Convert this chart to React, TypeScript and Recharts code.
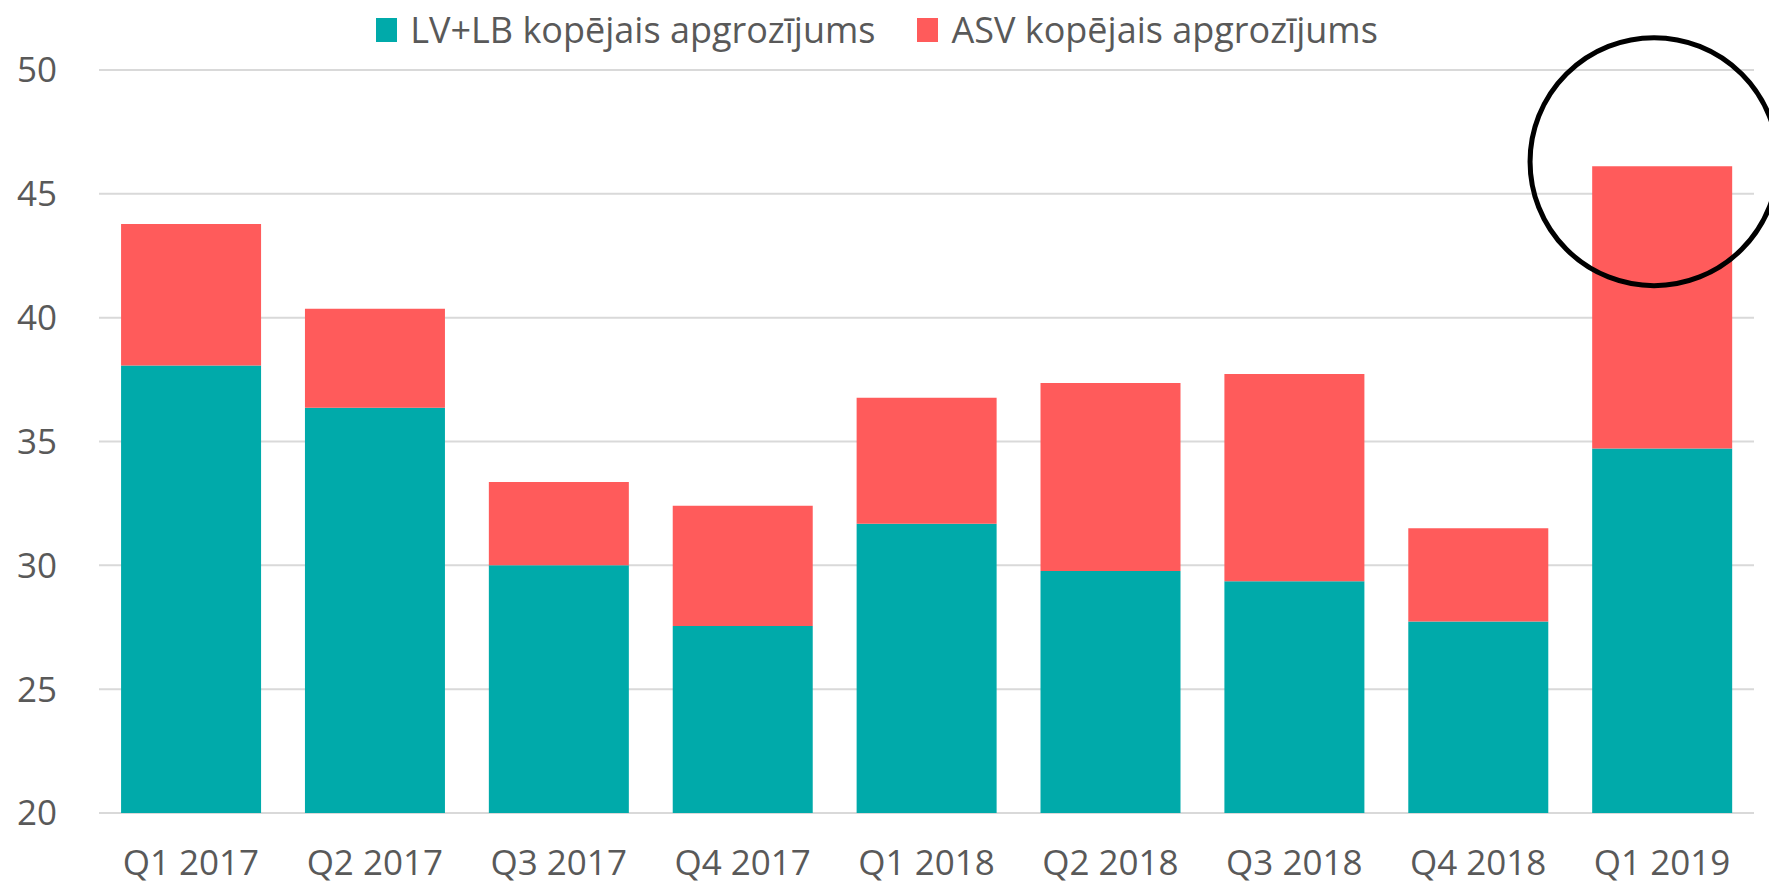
import React from 'react';
import { BarChart, Bar, XAxis, YAxis, CartesianGrid, Legend, ReferenceDot } from 'recharts';

const categories = ['Q1 2017', 'Q2 2017', 'Q3 2017', 'Q4 2017', 'Q1 2018', 'Q2 2018', 'Q3 2018', 'Q4 2018', 'Q1 2019'];
const lvlbValues = [38.07, 36.36, 30.0, 27.55, 31.68, 29.77, 29.36, 27.73, 34.72];
const asvValues = [5.71, 4.0, 3.36, 4.86, 5.09, 7.59, 8.37, 3.77, 11.39];
const yTicks = [20, 25, 30, 35, 40, 45, 50];
const seriesNames = ['LV+LB kopējais apgrozījums', 'ASV kopējais apgrozījums'];
const circleCategory = 'Q1 2019';
const circleValue = 46.3;

const data = categories.map((c, i) => ({ name: c, lvlb: lvlbValues[i], asv: asvValues[i] }));

const FONT = '"Open Sans", sans-serif';
const TEXT = '#595959';

const renderLegend = (props: any) => {
  const payload = [...(props.payload || [])].sort(
    (a: any, b: any) => seriesNames.indexOf(a.value) - seriesNames.indexOf(b.value)
  );
  return (
    <div style={{ height: 50, display: 'flex', justifyContent: 'center', alignItems: 'center', fontFamily: FONT, fontSize: 36, color: TEXT }}>
      {payload.map((entry: any, i: number) => (
        <div key={i} style={{ display: 'flex', alignItems: 'center', marginRight: i === payload.length - 1 ? 0 : 42 }}>
          <span style={{ display: 'inline-block', width: 21, height: 24, background: entry.color, marginRight: 13 }} />
          <span style={{ lineHeight: '50px' }}>{entry.value}</span>
        </div>
      ))}
    </div>
  );
};

const CircleShape = (p: any) => (
  <circle cx={p.cx - 8} cy={p.cy} r={p.r} fill="none" stroke="#000" strokeWidth={5} />
);

export default function App() {
  return (
    <div style={{ position: 'absolute', left: 0, top: 0, width: 1769, height: 888, background: '#fff' }}>
      <BarChart width={1769} height={888} data={data} margin={{ top: 20, right: 15, left: 0, bottom: 0 }} barCategoryGap="12%">
        <CartesianGrid vertical={false} stroke="#d9d9d9" strokeWidth={2} />
        <XAxis
          dataKey="name"
          axisLine={false}
          tickLine={false}
          tickSize={0}
          tickMargin={37}
          height={75}
          tick={{ fill: TEXT, fontSize: 35, fontFamily: FONT }}
        />
        <YAxis
          domain={[20, 50]}
          ticks={yTicks}
          allowDataOverflow
          axisLine={false}
          tickLine={false}
          tickSize={0}
          tickMargin={42}
          width={99}
          tick={{ fill: TEXT, fontSize: 35, fontFamily: FONT }}
        />
        <Legend verticalAlign="top" align="center" content={renderLegend} wrapperStyle={{ top: 5 }} />
        <Bar dataKey="lvlb" name={seriesNames[0]} stackId="a" fill="#00AAAA" isAnimationActive={false} />
        <Bar dataKey="asv" name={seriesNames[1]} stackId="a" fill="#FF5B5B" isAnimationActive={false} />
        <ReferenceDot x={circleCategory} y={circleValue} r={124} shape={CircleShape} ifOverflow="visible" />
      </BarChart>
    </div>
  );
}
